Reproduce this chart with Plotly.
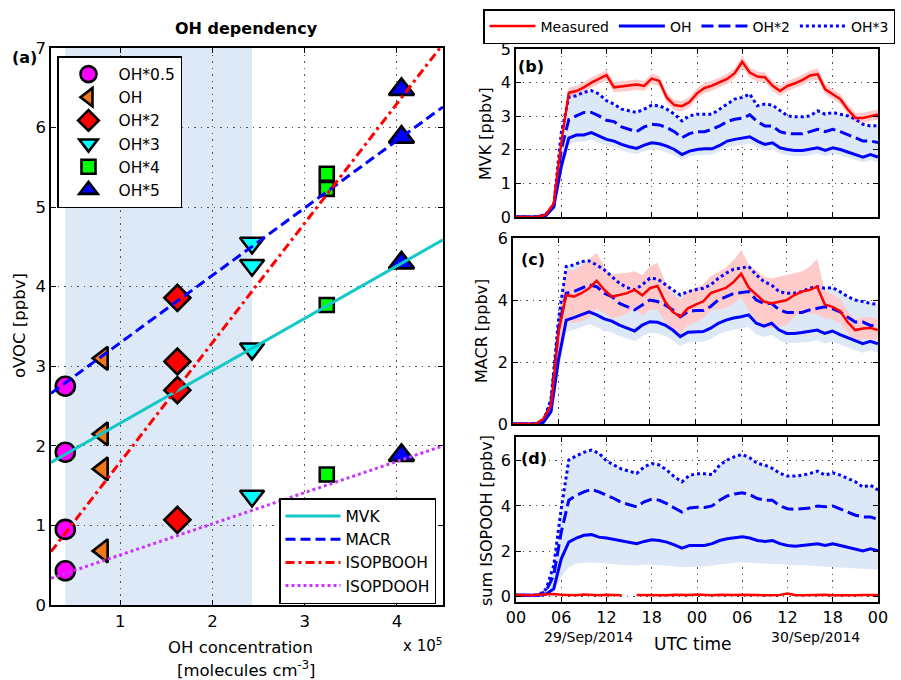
import plotly.graph_objects as go
import pandas as pd

# ---------------- Panel (a) data ----------------
oh_conc = [0.405, 0.81, 1.62, 2.43, 3.24, 4.05]   # x 10^5 molecules cm-3
mult_labels = ["OH*0.5", "OH", "OH*2", "OH*3", "OH*4", "OH*5"]
mvk_a = [1.92, 2.15, 2.70, 3.22, 3.77, 4.30]
macr_a = [2.75, 3.10, 3.86, 4.55, 5.23, 5.88]
isopbooh_a = [0.95, 1.71, 3.06, 4.27, 5.42, 6.48]
isopdooh_a = [0.43, 0.68, 1.07, 1.37, 1.64, 1.88]
fit_x = [0.25, 4.5]
fit_mvk = [1.79, 4.59]
fit_macr = [2.66, 6.26]
fit_isopbooh = [0.67, 7.05]
fit_isopdooh = [0.335, 2.0]

# ---------------- Panels (b)-(d) data (hourly, 29 Sep 00:00 -> 1 Oct 00:00) ----------------
hours = list(range(49))
tick_hours = [0, 6, 12, 18, 24, 30, 36, 42, 48]
tick_text = ["00", "06", "12", "18", "00", "06", "12", "18", "00"]

meas_b = [0, 0, 0, 0, 0.08, 0.4, 2.2, 3.7, 3.75, 3.86, 4.0, 4.12, 4.22, 3.86, 3.88, 3.9, 3.94, 3.9, 4.12, 4.05, 3.55, 3.33, 3.3, 3.42, 3.68,
          3.84, 3.91, 4.01, 4.11, 4.28, 4.62, 4.3, 4.18, 4.16, 3.91, 3.75, 3.9, 3.98, 4.08, 4.21, 4.25, 3.8, 3.66, 3.51, 3.2, 2.95, 2.95, 3.0, 3.05]
unc_b = [0, 0, 0, 0, 0.05, 0.05, 0.15, 0.15, 0.15, 0.15, 0.15, 0.15, 0.15, 0.15, 0.15, 0.15, 0.15, 0.15, 0.15, 0.15, 0.15, 0.15, 0.15, 0.15, 0.15,
         0.15, 0.15, 0.15, 0.15, 0.15, 0.18, 0.15, 0.15, 0.15, 0.15, 0.15, 0.15, 0.15, 0.15, 0.15, 0.18, 0.15, 0.15, 0.15, 0.15, 0.15, 0.15, 0.15, 0.15]
oh1_b = [0, 0, 0, 0, 0.05, 0.3, 1.5, 2.35, 2.44, 2.44, 2.51, 2.41, 2.31, 2.26, 2.16, 2.09, 2.04, 2.14, 2.21, 2.18, 2.11, 2.01, 1.86, 1.96, 2.01,
         2.03, 2.03, 2.13, 2.26, 2.31, 2.34, 2.39, 2.26, 2.16, 2.21, 2.06, 2.01, 1.98, 1.98, 2.01, 2.06, 1.98, 2.06, 2.01, 1.94, 1.86, 1.78, 1.86, 1.78]
oh2_b = [0, 0, 0, 0, 0.08, 0.3, 2.0, 2.9, 3.01, 3.11, 3.11, 3.01, 2.88, 2.84, 2.68, 2.61, 2.54, 2.68, 2.76, 2.74, 2.66, 2.54, 2.36, 2.48, 2.54,
         2.54, 2.61, 2.71, 2.84, 2.91, 2.94, 3.04, 2.84, 2.71, 2.71, 2.54, 2.48, 2.48, 2.48, 2.54, 2.61, 2.54, 2.61, 2.54, 2.46, 2.36, 2.26, 2.26, 2.22]
oh3_b = [0, 0, 0, 0, 0.1, 0.35, 2.5, 3.56, 3.61, 3.71, 3.76, 3.66, 3.46, 3.36, 3.21, 3.16, 3.11, 3.21, 3.33, 3.31, 3.21, 3.06, 2.86, 3.01, 3.06,
         3.06, 3.06, 3.21, 3.36, 3.51, 3.56, 3.66, 3.31, 3.36, 3.33, 3.16, 3.01, 2.98, 2.98, 3.01, 3.16, 3.06, 3.11, 3.06, 3.01, 2.91, 2.76, 2.71, 2.72]
low_b = [0, 0, 0, 0, 0.04, 0.25, 1.3, 2.15, 2.24, 2.25, 2.3, 2.21, 2.12, 2.07, 1.98, 1.92, 1.87, 1.96, 2.02, 2.0, 1.93, 1.84, 1.7, 1.8, 1.84,
         1.86, 1.86, 1.95, 2.07, 2.12, 2.14, 2.19, 2.07, 1.98, 2.02, 1.89, 1.84, 1.81, 1.81, 1.84, 1.89, 1.81, 1.89, 1.84, 1.78, 1.7, 1.63, 1.7, 1.63]

meas_c = [0, 0, 0, 0, 0.17, 0.6, 2.98, 4.16, 4.11, 4.22, 4.38, 4.62, 4.33, 4.11, 4.16, 4.22, 4.33, 4.15, 4.38, 4.45, 3.95, 3.62, 3.46, 3.73, 3.85,
          3.95, 4.22, 4.31, 4.39, 4.58, 4.85, 4.4, 4.16, 3.95, 3.89, 3.95, 4.0, 4.16, 4.27, 4.32, 4.43, 3.86, 3.78, 3.65, 3.29, 3.03, 3.08, 3.1, 3.03]
unc_c = [0, 0, 0, 0, 0.05, 0.15, 0.6, 0.8, 0.85, 0.9, 0.95, 0.9, 0.75, 0.7, 0.7, 0.65, 0.6, 0.65, 0.7, 0.75, 0.65, 0.6, 0.55, 0.55, 0.55,
         0.55, 0.55, 0.6, 0.65, 0.7, 0.75, 0.75, 0.8, 0.8, 0.8, 0.8, 0.8, 0.7, 0.65, 0.75, 0.9, 0.45, 0.4, 0.4, 0.35, 0.35, 0.35, 0.35, 0.35]
oh1_c = [0, 0, 0, 0, 0.05, 0.4, 2.1, 3.35, 3.43, 3.52, 3.62, 3.52, 3.39, 3.32, 3.19, 3.09, 3.0, 3.19, 3.3, 3.28, 3.19, 3.03, 2.82, 2.96, 2.97,
         2.98, 3.09, 3.25, 3.35, 3.42, 3.46, 3.52, 3.25, 3.16, 3.25, 3.03, 2.92, 2.92, 2.95, 2.98, 3.03, 2.92, 3.0, 2.88, 2.78, 2.67, 2.59, 2.67, 2.59]
oh2_c = [0, 0, 0, 0, 0.08, 0.7, 3.1, 4.22, 4.27, 4.38, 4.49, 4.43, 4.22, 4.11, 3.89, 3.79, 3.68, 3.84, 4.0, 3.95, 3.84, 3.68, 3.46, 3.62, 3.66,
         3.66, 3.79, 4.0, 4.1, 4.21, 4.24, 4.27, 4.0, 3.89, 3.89, 3.68, 3.6, 3.6, 3.6, 3.68, 3.74, 3.78, 3.72, 3.62, 3.45, 3.29, 3.29, 3.18, 3.18]
oh3_c = [0, 0, 0, 0, 0.1, 0.8, 3.4, 5.08, 5.13, 5.24, 5.26, 5.13, 4.97, 4.76, 4.54, 4.4, 4.33, 4.49, 4.7, 4.68, 4.49, 4.33, 4.16, 4.27, 4.33,
         4.38, 4.49, 4.7, 4.86, 4.99, 5.03, 5.08, 4.81, 4.59, 4.48, 4.27, 4.22, 4.22, 4.27, 4.38, 4.43, 4.38, 4.4, 4.27, 4.11, 4.0, 3.95, 3.89, 3.86]
low_c = [0, 0, 0, 0, 0.04, 0.3, 1.7, 2.95, 3.05, 3.13, 3.22, 3.13, 3.02, 2.95, 2.84, 2.75, 2.67, 2.84, 2.94, 2.92, 2.84, 2.7, 2.51, 2.63, 2.64,
         2.65, 2.75, 2.89, 2.98, 3.04, 3.08, 3.13, 2.89, 2.81, 2.89, 2.7, 2.6, 2.6, 2.63, 2.65, 2.7, 2.6, 2.67, 2.56, 2.47, 2.38, 2.3, 2.38, 2.3]

meas_d = [0.06, 0.04, 0.05, 0.07, 0.09, 0.1, 0.07, 0.06, 0.05, 0.08, 0.06, 0.05, 0.07, 0.06, 0.05, None, 0.06, 0.05, 0.04, 0.06, 0.05, 0.07, 0.05, 0.06, 0.08,
          0.06, 0.05, 0.07, 0.05, 0.06, 0.07, 0.05, 0.06, 0.05, 0.04, 0.06, 0.12, 0.06, 0.05, 0.06, 0.05, 0.07, 0.05, 0.04, 0.06, 0.05, 0.06, 0.05, 0.06]
oh1_d = [0.05, 0.05, 0.05, 0.05, 0.1, 0.33, 1.66, 2.4, 2.58, 2.7, 2.73, 2.62, 2.58, 2.52, 2.43, 2.37, 2.33, 2.43, 2.5, 2.47, 2.4, 2.28, 2.13, 2.25, 2.26,
         2.25, 2.33, 2.47, 2.55, 2.61, 2.64, 2.58, 2.47, 2.43, 2.47, 2.33, 2.25, 2.22, 2.25, 2.28, 2.33, 2.25, 2.33, 2.25, 2.18, 2.1, 2.01, 2.1, 2.01]
oh2_d = [0.05, 0.05, 0.05, 0.05, 0.25, 0.92, 2.84, 4.25, 4.47, 4.62, 4.73, 4.62, 4.47, 4.33, 4.15, 4.06, 3.96, 4.18, 4.3, 4.25, 4.1, 3.91, 3.73, 3.91, 3.94,
         3.93, 4.0, 4.25, 4.44, 4.53, 4.58, 4.5, 4.33, 4.25, 4.25, 4.0, 3.88, 3.85, 3.88, 3.91, 4.0, 3.96, 4.0, 3.85, 3.73, 3.59, 3.51, 3.51, 3.41]
oh3_d = [0.05, 0.05, 0.05, 0.05, 0.33, 1.36, 3.88, 6.03, 6.22, 6.37, 6.47, 6.33, 5.99, 5.81, 5.63, 5.54, 5.44, 5.73, 5.88, 5.81, 5.59, 5.29, 5.07, 5.36, 5.42,
         5.42, 5.39, 5.81, 6.03, 6.18, 6.28, 6.13, 5.88, 5.81, 5.66, 5.44, 5.32, 5.32, 5.36, 5.44, 5.54, 5.36, 5.47, 5.36, 5.21, 5.07, 4.84, 4.92, 4.7]
low_d = [0.03, 0.03, 0.03, 0.03, 0.06, 0.25, 0.85, 1.3, 1.44, 1.49, 1.51, 1.48, 1.45, 1.42, 1.38, 1.37, 1.36, 1.39, 1.41, 1.39, 1.36, 1.32, 1.29, 1.31, 1.32,
         1.32, 1.35, 1.4, 1.45, 1.49, 1.51, 1.49, 1.46, 1.45, 1.45, 1.42, 1.4, 1.38, 1.38, 1.37, 1.37, 1.34, 1.33, 1.29, 1.27, 1.25, 1.22, 1.2, 1.19]

# ---------------- Figure ----------------
W, H = 901, 680
FONT = "DejaVu Sans"


def px(x):
    return x / W


def py(y):
    return 1 - y / H


t0 = pd.Timestamp("2014-09-29 00:00")
times = [t0 + pd.Timedelta(hours=h) for h in hours]
tick_times = [t0 + pd.Timedelta(hours=h) for h in tick_hours]

fig = go.Figure()

# ---- Panel (a) markers ----
mk_symbols = ["circle", "triangle-left", "diamond", "triangle-down", "square", "triangle-up"]
mk_colors = ["#FF00FF", "#F07818", "#FF0000", "#00FFFF", "#00FF00", "#0000FF"]
mk_sizes = [19, 20, 20, 21, 14, 22]
for i in range(len(oh_conc)):
    fig.add_trace(go.Scatter(
        x=[oh_conc[i]] * 4,
        y=[mvk_a[i], macr_a[i], isopbooh_a[i], isopdooh_a[i]],
        mode="markers", name=mult_labels[i], legend="legend",
        marker=dict(symbol=mk_symbols[i], size=mk_sizes[i], color=mk_colors[i],
                    line=dict(color="black", width=2.6)),
        xaxis="x", yaxis="y", hoverinfo="skip"))

# ---- Panel (a) fit lines (drawn over markers) ----
fit_specs = [("MVK", fit_mvk, "#14C8C8", "solid"),
             ("MACR", fit_macr, "#0000FF", "10px,5px"),
             ("ISOPBOOH", fit_isopbooh, "#FF0000", "9px,4px,3px,4px"),
             ("ISOPDOOH", fit_isopdooh, "#CC33FF", "3px,3px")]
for name, ys, col, dash in fit_specs:
    fig.add_trace(go.Scatter(x=fit_x, y=ys, mode="lines", name=name, legend="legend2",
                             line=dict(color=col, width=3, dash=dash),
                             xaxis="x", yaxis="y", hoverinfo="skip"))

# ---- Panels (b)-(d) ----
BAND_BLUE = "#DCE8F6"
BAND_RED = "#FFCACA"
panels = [
    ("x2", "y2", meas_b, unc_b, oh1_b, oh2_b, oh3_b, low_b, True),
    ("x3", "y3", meas_c, unc_c, oh1_c, oh2_c, oh3_c, low_c, False),
    ("x4", "y4", meas_d, None, oh1_d, oh2_d, oh3_d, low_d, False),
]
for xa, ya, meas, unc, oh1, oh2, oh3, low, show in panels:
    fig.add_trace(go.Scatter(x=times + times[::-1], y=oh3 + low[::-1], fill="toself",
                             fillcolor=BAND_BLUE, line=dict(width=0), mode="lines",
                             showlegend=False, hoverinfo="skip", xaxis=xa, yaxis=ya))
    if unc is not None:
        upper = [m + u for m, u in zip(meas, unc)]
        lower = [m - u for m, u in zip(meas, unc)]
        fig.add_trace(go.Scatter(x=times + times[::-1], y=upper + lower[::-1], fill="toself",
                                 fillcolor=BAND_RED, line=dict(width=0), mode="lines",
                                 showlegend=False, hoverinfo="skip", xaxis=xa, yaxis=ya))
    fig.add_trace(go.Scatter(x=times, y=oh1, mode="lines", name="OH", legend="legend3",
                             legendrank=2, showlegend=show,
                             line=dict(color="#0000FF", width=3), xaxis=xa, yaxis=ya, hoverinfo="skip"))
    fig.add_trace(go.Scatter(x=times, y=oh2, mode="lines", name="OH*2", legend="legend3",
                             legendrank=3, showlegend=show,
                             line=dict(color="#0000FF", width=3, dash="12px,5px"), xaxis=xa, yaxis=ya,
                             hoverinfo="skip"))
    fig.add_trace(go.Scatter(x=times, y=oh3, mode="lines", name="OH*3", legend="legend3",
                             legendrank=4, showlegend=show,
                             line=dict(color="#0000FF", width=3, dash="3px,3px"), xaxis=xa, yaxis=ya,
                             hoverinfo="skip"))
    fig.add_trace(go.Scatter(x=times, y=meas, mode="lines", name="Measured", legend="legend3",
                             legendrank=1, showlegend=show, connectgaps=False,
                             line=dict(color="#FF0000", width=2.5), xaxis=xa, yaxis=ya, hoverinfo="skip"))

# shaded OH range in panel (a)
fig.add_shape(type="rect", xref="x", yref="y domain", x0=oh_conc[0], x1=oh_conc[3], y0=0, y1=1,
              fillcolor="#DDE9F7", line=dict(width=0), layer="below")

GRID = dict(showgrid=True, gridcolor="#555555", gridwidth=1, griddash="1.5px,5px",
            showline=True, linecolor="black", linewidth=1.5, mirror="ticks",
            ticks="inside", ticklen=5, tickcolor="black", zeroline=False, automargin=False)

fig.update_layout(
    width=W, height=H, autosize=False,
    margin=dict(l=0, r=0, t=0, b=0, pad=0, autoexpand=False),
    paper_bgcolor="white", plot_bgcolor="white",
    font=dict(family=FONT, color="black", size=15),
    xaxis=dict(domain=[px(51), px(443)], anchor="y", range=[0.25, 4.5], tickvals=[1, 2, 3, 4],
               tickfont=dict(size=16.5), **GRID),
    yaxis=dict(domain=[py(605), py(48)], anchor="x", range=[0, 7], dtick=1,
               tickfont=dict(size=16.5), **GRID),
    xaxis2=dict(domain=[px(516), px(878)], anchor="y2", type="date",
                range=[times[0], times[-1]], tickvals=tick_times, showticklabels=False, **GRID),
    yaxis2=dict(domain=[py(217), py(49)], anchor="x2", range=[0, 5], dtick=1,
                tickfont=dict(size=16), **GRID),
    xaxis3=dict(domain=[px(513), px(878)], anchor="y3", type="date",
                range=[times[0], times[-1]], tickvals=tick_times, showticklabels=False, **GRID),
    yaxis3=dict(domain=[py(424), py(238)], anchor="x3", range=[0, 6], tickvals=[0, 2, 4, 6],
                tickfont=dict(size=16), **GRID),
    xaxis4=dict(domain=[px(516), px(878)], anchor="y4", type="date",
                range=[times[0], times[-1]], tickvals=tick_times, ticktext=tick_text,
                tickfont=dict(size=16), **GRID),
    yaxis4=dict(domain=[py(602), py(437)], anchor="x4", range=[-0.25, 7.05], tickvals=[0, 2, 4, 6],
                tickfont=dict(size=16), **GRID),
    legend=dict(x=px(57), y=py(56), xanchor="left", yanchor="top", bgcolor="white",
                bordercolor="black", borderwidth=1.5, font=dict(size=15.5), itemwidth=50,
                itemsizing="trace"),
    legend2=dict(x=px(279), y=py(498), xanchor="left", yanchor="top", bgcolor="white",
                 bordercolor="black", borderwidth=1.5, font=dict(size=15.5), itemwidth=55),
    legend3=dict(x=px(483), y=py(9), xanchor="left", yanchor="top", bgcolor="white",
                 orientation="h", bordercolor="black", borderwidth=1.5, font=dict(size=14),
                 itemwidth=46, traceorder="normal"),
)

ann = []


def add_text(text, x, y, size, bold=False, angle=0, xanchor="center"):
    ann.append(dict(text=("<b>%s</b>" % text) if bold else text, x=px(x), y=py(y),
                    xref="paper", yref="paper", showarrow=False, textangle=angle,
                    xanchor=xanchor, yanchor="middle", font=dict(size=size, family=FONT, color="black")))


add_text("OH dependency", 246, 28.5, 16, bold=True)
add_text("(a)", 24.5, 57, 16, bold=True)
add_text("OH concentration", 241, 647, 16.5)
add_text("[molecules cm<sup>-3</sup>]", 246, 669, 16.5)
add_text("x 10<sup>5</sup>", 444, 645, 15, xanchor="right")
add_text("oVOC [ppbv]", 19, 326, 16.5, angle=-90)
add_text("MVK [ppbv]", 486, 134, 16, angle=-90)
add_text("MACR [ppbv]", 481, 331, 16, angle=-90)
add_text("sum ISOPOOH [ppbv]", 486, 521, 16, angle=-90)
add_text("(b)", 531, 67, 16, bold=True)
add_text("(c)", 533, 259, 16, bold=True)
add_text("(d)", 534, 458, 16, bold=True)
add_text("29/Sep/2014", 588.5, 636.5, 14)
add_text("30/Sep/2014", 815.5, 636.5, 14)
add_text("UTC time", 693, 643.5, 17)
fig.update_layout(annotations=ann)

fig.write_html("out.html", config={"displayModeBar": False},
               post_script="document.body.style.margin='0';document.body.style.padding='0';document.body.style.overflow='hidden';")
